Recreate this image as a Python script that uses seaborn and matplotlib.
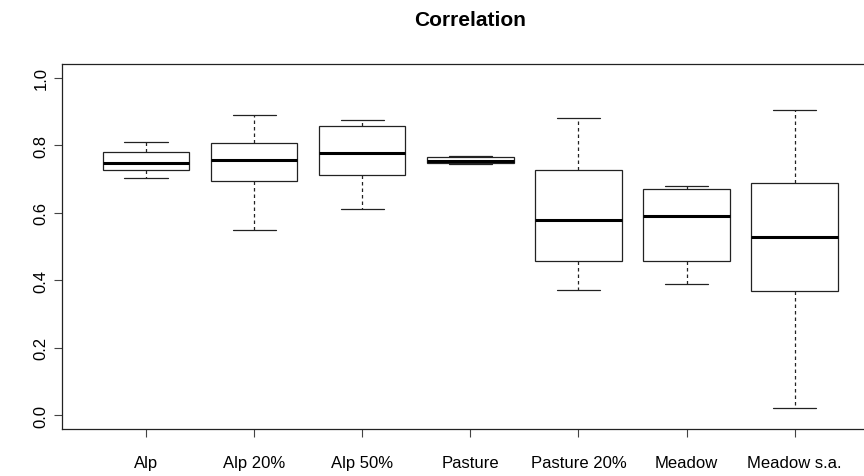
import numpy as np
import pandas as pd
import seaborn as sns
import matplotlib
matplotlib.use("Agg")
import matplotlib.pyplot as plt

categories = ["Alp", "Alp 20%", "Alp 50%", "Pasture", "Pasture 20%", "Meadow", "Meadow s.a."]
# five-number summaries: min, q1, median, q3, max
alp = [0.702, 0.726, 0.748, 0.779, 0.808]
alp20 = [0.550, 0.694, 0.755, 0.805, 0.889]
alp50 = [0.610, 0.713, 0.778, 0.858, 0.874]
pasture = [0.745, 0.748, 0.753, 0.766, 0.768]
pasture20 = [0.370, 0.458, 0.578, 0.725, 0.879]
meadow = [0.390, 0.456, 0.589, 0.669, 0.679]
meadow_sa = [0.021, 0.367, 0.528, 0.687, 0.905]
series = [alp, alp20, alp50, pasture, pasture20, meadow, meadow_sa]
yticks = [0.0, 0.2, 0.4, 0.6, 0.8, 1.0]
title = "Correlation"

rows = []
for cat, vals in zip(categories, series):
    for v in vals:
        rows.append({"group": cat, "value": v})
df = pd.DataFrame(rows)

sns.set_style("white")
plt.rcParams["font.family"] = ["Liberation Sans", "DejaVu Sans"]
plt.rcParams["text.color"] = "black"

W, H = 864, 477
fig = plt.figure(figsize=(W / 100, H / 100), dpi=100)
left, right, top, bottom = 61.7, 879, 65, 430
ax = fig.add_axes([left / W, 1 - bottom / H, (right - left) / W, (bottom - top) / H])

sns.boxplot(
    data=df, x="group", y="value", order=categories, ax=ax,
    width=0.8, whis=np.inf, color="white", linecolor="black", linewidth=0.9,
    boxprops=dict(facecolor="white", edgecolor="#222222", linewidth=0.9),
    whiskerprops=dict(color="#222222", linestyle=(0, (2.8, 2.4)), linewidth=0.9),
    capprops=dict(color="#222222", linewidth=0.9),
    medianprops=dict(color="black", linewidth=2.2),
    showfliers=False,
)

ax.set_xlim(-0.78, len(categories) - 1 + 0.78)
ax.set_ylim(-0.04, 1.04)
ax.set_yticks(yticks)
ax.set_yticklabels([f"{t:.1f}" for t in yticks], rotation=90, va="center", fontsize=12)
ax.set_xticks(range(len(categories)))
ax.set_xticklabels(categories, fontsize=12)
ax.set_xlabel("")
ax.set_ylabel("")
for s in ax.spines.values():
    s.set_visible(True)
    s.set_color("#222222")
    s.set_linewidth(0.9)
ax.tick_params(axis="both", which="both", direction="out", length=5.5, width=0.8,
               color="#444444", labelcolor="black", left=True, bottom=True)
ax.tick_params(axis="y", pad=4)
ax.tick_params(axis="x", pad=13)
ax.grid(False)

fig.text((left + right) / 2 / W, 1 - 20 / H, title, ha="center", va="center",
         fontsize=15, fontweight="bold", color="black")

fig.savefig("out.png", dpi=100)
